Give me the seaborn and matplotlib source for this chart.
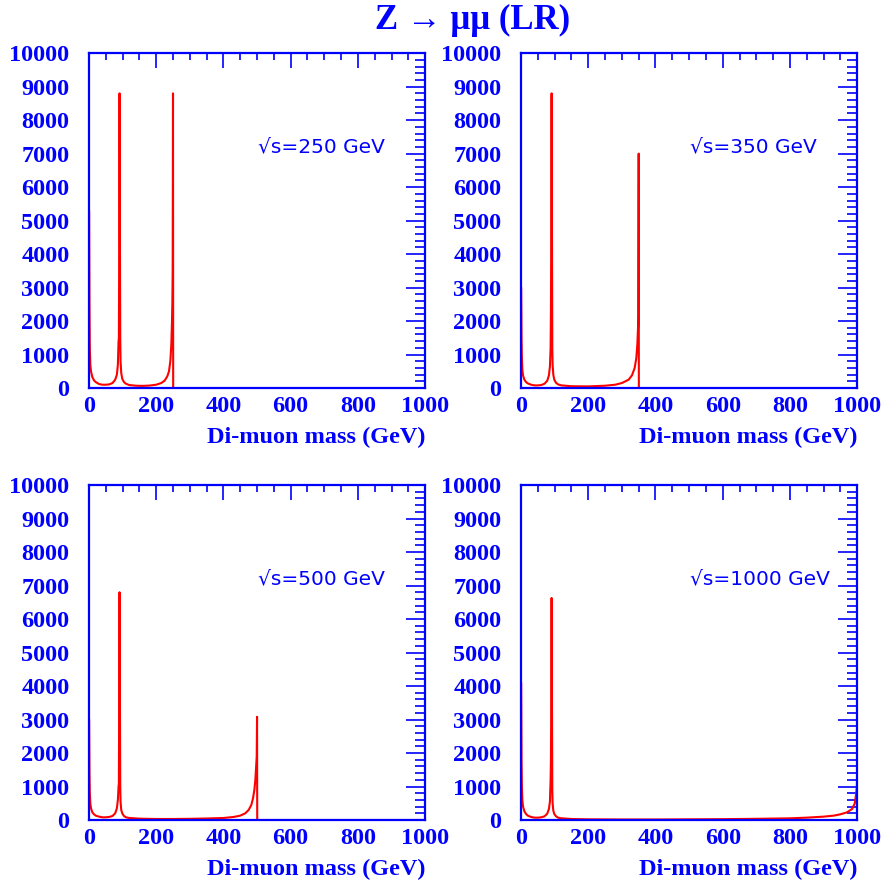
import numpy as np
import matplotlib
matplotlib.use('Agg')
import matplotlib.pyplot as plt
from matplotlib.ticker import MultipleLocator
import seaborn as sns


# DATA - di-muon mass (GeV) and entries per bin

# sqrt(s) = 250 GeV
mass_250 = [0, 0.5, 1.5, 2.5, 4, 6, 10, 15, 20, 30, 40, 50, 60, 70, 78, 83, 86, 88, 89, 90, 91, 92, 93,
            94, 96, 99, 104, 110, 120, 140, 160, 180, 200, 215, 225, 233, 238, 242, 245, 247, 248, 249,
            250, 250.5, 1000]
count_250 = [5300, 5300, 2500, 1200, 700, 500, 330, 230, 180, 120, 100, 100, 110, 150, 250, 400, 700, 1400,
             1500, 4100, 8800, 4700, 1500, 800, 450, 280, 180, 130, 90, 70, 65, 75, 100, 150, 220, 350,
             500, 800, 1300, 2000, 2500, 3500, 8800, 0, 0]

# sqrt(s) = 350 GeV
mass_350 = [0, 0.5, 1.5, 2.5, 4, 6, 10, 15, 20, 30, 40, 50, 60, 70, 78, 83, 86, 88, 89, 90, 91, 92, 93,
            94, 96, 99, 104, 110, 120, 150, 200, 250, 280, 300, 320, 330, 338, 343, 346, 348, 349,
            350, 350.5, 1000]
count_350 = [3000, 3000, 1500, 900, 550, 380, 250, 180, 140, 100, 80, 80, 90, 130, 220, 380, 650, 1200,
             2300, 4700, 8800, 4700, 1200, 700, 400, 250, 160, 110, 80, 55, 50, 70, 100, 150, 250, 380,
             600, 900, 1300, 1800, 2100, 7000, 0, 0]

# sqrt(s) = 500 GeV
mass_500 = [0, 0.5, 1.5, 2.5, 4, 6, 10, 15, 20, 30, 40, 50, 60, 70, 78, 83, 86, 88, 89, 90, 91, 92, 93,
            94, 96, 99, 104, 110, 120, 150, 200, 250, 300, 350, 400, 430, 450, 465, 475, 483, 488, 492,
            495, 497, 499, 500, 500.5, 1000]
count_500 = [3000, 3000, 1400, 800, 500, 350, 230, 170, 130, 100, 80, 80, 90, 120, 200, 350, 600, 1000,
             1100, 3800, 6800, 3800, 1000, 550, 300, 200, 120, 80, 60, 40, 30, 30, 35, 45, 60, 90, 130,
             200, 300, 450, 650, 900, 1200, 1550, 1900, 3080, 0, 0]

# sqrt(s) = 1000 GeV
mass_1000 = [0, 0.5, 1.5, 2.5, 4, 6, 10, 15, 20, 30, 40, 50, 60, 70, 78, 83, 86, 88, 89, 90, 91, 92, 93,
             94, 96, 99, 104, 110, 120, 150, 200, 300, 400, 500, 600, 700, 800, 850, 900, 930, 950, 970,
             985, 993, 997, 999, 1000]
count_1000 = [4100, 4100, 1800, 1000, 600, 400, 260, 180, 130, 90, 70, 70, 80, 110, 190, 330, 550, 1200,
              1800, 3500, 6630, 3500, 900, 500, 280, 180, 110, 70, 50, 30, 20, 15, 15, 20, 25, 35, 50, 70,
              100, 130, 170, 230, 330, 500, 800, 1000, 1400]

energies = ['250', '350', '500', '1000']
masses = [mass_250, mass_350, mass_500, mass_1000]
counts = [count_250, count_350, count_500, count_1000]


# STYLE
sns.set_style('white')
plt.rcParams['font.family'] = ['Liberation Serif', 'DejaVu Serif']
plt.rcParams['font.weight'] = 'bold'

fig = plt.figure(figsize=(8.87, 8.86), dpi=100)

# panel frames in figure fractions: left, bottom, width, height
positions = [[0.1003, 0.562, 0.379, 0.378],
             [0.5874, 0.562, 0.379, 0.378],
             [0.1003, 0.0745, 0.379, 0.378],
             [0.5874, 0.0745, 0.379, 0.378]]


def drawPanel(pos, m, n, energy):
    ax = fig.add_axes(pos)
    sns.lineplot(x=m, y=n, ax=ax, color='red', linewidth=1.5, estimator=None, sort=False)
    ax.set_xlim(0, 1000)
    ax.set_ylim(0, 10000)
    ax.xaxis.set_major_locator(MultipleLocator(200))
    ax.xaxis.set_minor_locator(MultipleLocator(50))
    ax.yaxis.set_major_locator(MultipleLocator(1000))
    ax.yaxis.set_minor_locator(MultipleLocator(200))
    ax.tick_params(axis='both', which='both', direction='in', top=True, right=True,
                   color='blue', labelcolor='blue', labelsize=17.5, width=1.2)
    ax.tick_params(axis='x', which='major', length=11, pad=6)
    ax.tick_params(axis='x', which='minor', length=5)
    ax.tick_params(axis='y', which='major', length=14, pad=14)
    ax.tick_params(axis='y', which='minor', length=7)
    for spine in ax.spines.values():
        spine.set_color('blue')
        spine.set_linewidth(1.6)
    ax.set_xlabel('Di-muon mass (GeV)', loc='right', color='blue', fontsize=17.5,
                  fontweight='bold', labelpad=7)
    ax.set_ylabel('')
    ax.text(0.503, 0.72, '\u221as=' + energy + ' GeV', transform=ax.transAxes, color='blue',
            fontsize=14.5, fontweight='normal', family=['DejaVu Sans'],
            ha='left', va='center')
    return ax


for i in range(4):
    drawPanel(positions[i], masses[i], counts[i], energies[i])

fig.text(0.533, 0.977, 'Z \u2192 \u03bc\u03bc (LR)', color='blue', fontsize=25, fontweight='bold',
         ha='center', va='center')

plt.savefig('out.png', dpi=100)
